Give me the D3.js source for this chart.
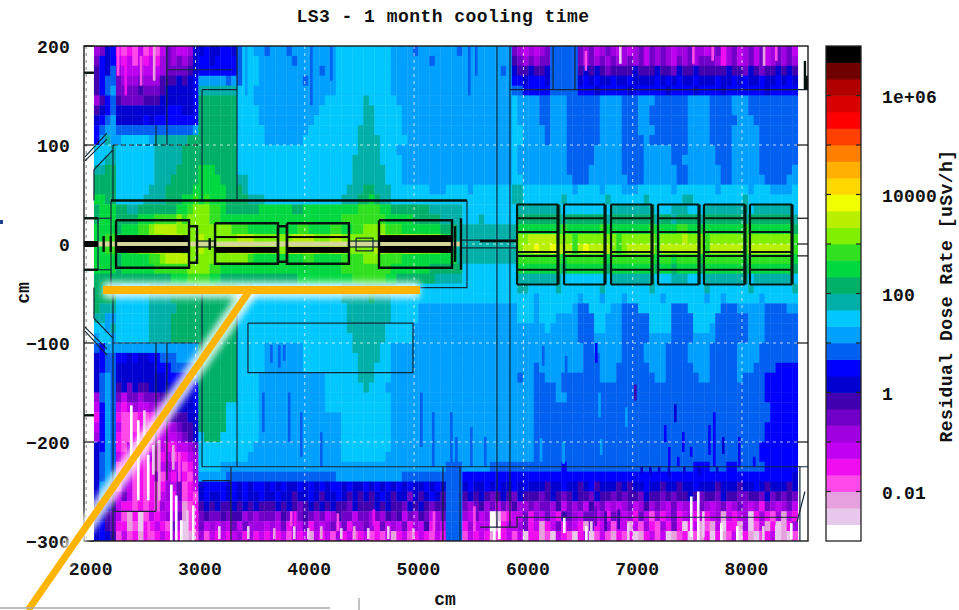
<!DOCTYPE html>
<html>
<head>
<meta charset="utf-8">
<style>
  html, body { margin: 0; padding: 0; background: #fff; overflow: hidden; }
  text { font-family: "Liberation Mono", "DejaVu Sans Mono", monospace; font-weight: 700; fill: #111; }
</style>
<script src="https://cdn.jsdelivr.net/npm/d3@7"></script>
</head>
<body>
<svg id="chart" width="959" height="610"></svg>
<script>
// colour band index per cell, base 30: 0 = lowest dose band, t = highest band
// one string per 10 cm row, top (y = 200) to bottom, 8 groups of 16 columns
const doseBandRows = [
  "679a434353435765 5699a99aa9bddccb cccbccccccccdddd ddddddccccbccccc ccbccccccccc7656 567bbbbb76756765 6567576765667665 6746756757567675",
  "7a9a545354546767 679aa9aaaabdddcc ccccbcccccccdddd ddddddcccccccbcc cccccccccccc8767 677bbbbb76767676 6767576765767677 7646756757567676",
  "8a9b655565556777 789aaaaaaabdddcc cccccccccbccdddd ddddddcccccccccc ccccccccccbc9889 889bbbbb89898788 8898889887988988 8889887987889898",
  "8abb766676668889 89acccccbcbdddcc ccccccbcccccdddd ddddddcccccccccc ccccccccccccaa9a aa9bbbbb9a9a99a9 9a9999a9a9a99a99 9a99a9a99a99a9a9",
  "8abc777787778999 99aeeeeeeedddccc ccccccccccccdddd ddddddcccccccccc ccccccccccccbbaa aaabbbbbaaa9aaaa a9aaaaaa9aaaa9aa aa9aaaaaaa9aaaaa",
  "68ab877778889999 99afffffffdddccc ccccccccccdddddd dedddddccccccccc ccccccccccccdccc cbbcccbbbbbbcccc bbbcccbbbbbbcccc bbbbcccbbbbbbbbb",
  "89ab999999999aaa 99afffffffddddcc cccccccccddddddd deedddddcccccccc ccccccccccccdccc cbbcccbbbbbbcccc bbbccbbbbbbbcccc bbbbcccbbbbbbbbb",
  "9abc99999a9aaaaa aaafffffffddddcc ccccccccdddddddd deedddddcccccccc ccccccccccccdccc cbbcccbbbbbbcccc bbbccbbbbbbbcccc bbbbbcccbbbbbbbb",
  "abccbbbbbbbbbbbb bbcfffffffdddddc cccccccddddddddd eeedddddcccccccc ccccccccccccddcc ccbcccbbbbbbcccc bbbcccbbbbbbcccc bbbbcccccbbbbbbb",
  "aceccdddddceeeee efffffffffdddddc ccccccdddddddddd eeeedddddccccccc ccccccccccccddcc ccbcccbbbbbbcccc bbbbcbbbbbbbcccc bbbbcccccbbbbbbb",
  "dddedddddddeeeee ffffffffffdddddd dddddddddddddddd eeeedddccccccccc ccccccccccccdccc ccccccbbbbbccccc bbbbcccccbbbcccc cbbbcccccbbbbbbb",
  "ddeedddddddeeeee ffffffffffdddddd ddddddddddddddde eeeeddddcccccccc ccccccccccccdccc ccccccbbbbbccccc bbbbcccccbbccccc cbbbcccccbbbbbbb",
  "eeffdddddddeeeef fffgggffffdddddd ddddddddddddddde eeeeedddcccccccc ccccccccccccdccc ccccccbbbbcccccc bbbbccccccbbcccc ccbbcccccbbbbbbc",
  "ffffdddddddeeeff fffggggfffeedddd ddddddddddddddde eeeeedddcccccccc ccccccccccccddcc cccccccbbbcccccc cbbbccccccbbcccc ccbbccccccbbbbcc",
  "ffffddddddeeefff ffggggggfffedddd ddddddddddddddee effeeedddddddccc ddddcdddddddeedd dddddddcddddcddd cccddddddcdddddd dcdddddcdddccccd",
  "ggffdddddeeeefff gghghgggffffeeed dddddddddddddeee ffgfeedddddddddd ddddddddddddeedd dddddedddddddedd ddddeddddddeeddd ddddddeddddddddd",
  "fgggffeefffffffg ghiiihhgffffffgg ggggffgggggggggg hhhhggfffffffeee eeeddddddddddeee eeeeedddddddddee eeeeeedddeeeddde eeeeeeedeeeeeeed",
  "fgggffffggghhhhi hiiiihhggggggggg ggggggggggggghhh hhhhhgggggfffffe eeedddeddddddfff fffffefffffffeff ffffffeffeffffef ffffffeffffffffe",
  "ggggfggghhijjjji iiiiiiiiihhhgggg ggggghhgggghhggh hiiiihhhgggggggf ffeeeeeeeeeeeggg ggggghgggggghggg ggggghgggghhgggg gggggghggggggggf",
  "gghhgggghhiiijjj iiijiiiiiijjjiii iiiijjjjiiijjiii iiiijiiijjjiiiih gfeeeeeeeeeeeiij jjjjiiihiiiiiiih iiiiiihiiiijiiih iiiiiihiiiiiiiih",
  "gghhgghhiiijjjjj iiijiiiijjjjjiii iiijjjjjjiijjiii iiijjiiijjjiiiih gfeeeeeeeeeeeijj kjjkjjjhjkjjjjih ijjjjjhjjjjjjjih jjjjjjhjjjjjjjjh",
  "ggggfggggghhijjj jiiiiiiiiiiihggg gggggghhggggghhh hiiihhhhgggggggg ggeeeeeeeeeeehhh hhhhhghhhhhhhghh hhhhhhghhghhhhgh hhhhhhghhhhhhhhg",
  "ggggfgggggghhhhh hiiiihhggggggggg ggggggggggggghhh hhhhhhgggggggfff fffddddddddddggg gggggfgggggggfgg ggggggfggfggggfg ggggggfggggggggf",
  "ffffffffffffffgg ghhhhggfffffffff fffffggggggggggh hhhhhggfffffffee eeeddddddddddeee eeeeedddddddddee eeeeeedddeeeddde eeeeeeedeeeeeeed",
  "fffeedddddeeefff fffgggffffeeeddd dddddddddddddeee efffeeeddddddddd dddddddddddddeed ddddedddddddeddd dddddeddddddddde dddddddeddddddde",
  "ffffddddddeeeeff ffffffffffdddddd dddddddddddddeee eefeeedddddddddd dddddddddddddddd cdddddddcdddcddd cddddddcdddddddc ddcddddddcdddddd",
  "feeeddddddeeeeef ffffffffffdddddd ddddddddddddddee eeeeeedddddccccc cccccccccccccddd cddddddcbbddddcc bbbddddddbbbdddd ddbbbcccccbbbbcc",
  "eeccddddddeeeeff ffffffffffdddddd ddddddddddddddee eeeeeedddddccccc cccccccccccccddd cdddccccbbbddccc bbbbbddddbbbbddd dbbbbbbcccbbbbbb",
  "ddceddddddeeeeff ffffffffffdddddd ddddddddddddddee eeeeedddddcccccc cccccccccccccccc ccdcccccbbbddccc bbbbbddddbbbbddd cbbbbbbcccbbbbbb",
  "cddcddddddeeeeff ffffffffffdddddd ddddddddddddddde eeeeedddddcccccc cccccccccccccccc ccccccccbbbccccc bbbbbccccbbbbccc cbbbbbbcccbbbbbb",
  "bacccccccccccccc cccfffffffdddddc ccccccddddddddde eeeeddcccccccccc cccccccccccccccc cccccccccbbccccc bbbbccccbbbbcccc bbbbbccccbbbbbbb",
  "9abbaa9a99aabbbc cccfffffffdddddc ccccccdddddddddd eeeeddcccccccccc cccccccccccccccc cccccccccbbbcccc bbbbccccbbbbcccc bbbbbccccbbbbbbb",
  "9abb9999999aaabb bbcfffffffdddddc ccccccdddddddddd eeedddcccccccccc cccccccccccccccc bccccccccbbbcccb bbbbbcccbbbbbccc bbbbbcccbbbbaaaa",
  "9bcb999999999aaa aabfffffffddddcc ccccccccccdddddd eeedddcccccccccc cccccccccccccbcc bbcccbbbbbbbcccb bbbbbbccbbbbbbcc bbbbbcbbbbaaaaaa",
  "9bcb897988999999 9aafffffffddddcc ccccccccccdddddd dedddccccccccccc cccccccccccccccc bbbbcbbbbbbbbbbb bbbbbbbbbbbbbbbb bbbbbbbbbbaaaaaa",
  "6bcb7577677788a9 99afffffffddddcc ccccccccccdddddd ddddddcccccccccc cccccccccccccccc bbbbccbbbbbbbbbb bbbbbbbbbbbbbbbb bbbbbbbbbbaaaaaa",
  "5acb545655667889 99afffffddddddcc ccccccccccdddddd ddddddcccccccccc cccccccccccccccc bbbbbbbbbbbbbbbb bbbbbbbbbbbbbbbb bbbbbbbbbbbaaaaa",
  "4acb433343456788 899fffffddddddcc cccccccccccccddd ddddddcccccccccc cccccccccccccccc bbbbbbbbbbbbbbbb bbbbbbbbbbbbbbbb bbbbbbbbbbbaaaaa",
  "5acb533343345567 889fffffddddddcc cccccccccccccddd ddddddcccccccccc cccccccccccccccc bbbbbbbbbbbbbbbb bbbbbbbbbbbbbbbb bbbbbbbbbbaaaaaa",
  "6acb433434345556 789dfffdddddddcc cccccccccccccddd ddddddcccccccccc cccccccccccccccc bbbbbbbbbbbbbbbb bbbbbbbbbbbbbbbb bbbbbbbbbbaaaaaa",
  "9acb435343435445 567ddddddddddccc cccccccccccccddd ddddddcccccccccc cccccccccccccccc bbbbbbbbbbbbbbbb bbbbbbbbbbbbbbbb bbbbbbbbbaaaaaaa",
  "9bcb545343534534 456dddddddddcccc cccccccccccccddd dddddccccccccccc cccccccccccccccc bbbbbbbbbbbbbbbb bbbbbbbbbbbbbbbb bbbbbbbbbaaaaaaa",
  "9bcb345343435655 346ddddccccccccc cccccccccccccccc cccccccccccccccc bbbcccccbbbbbbbb bbbbbabbbbbbbbbb bbbbbbbbbbbbbaaa bbbaabbbbbaaaaaa",
  "9bcc355343453546 436cccccbbbbbbbb bbbbbbbbbbbbcccc ccccccccbbbbbbbb bbbaaaaaaaaaaaaa aaaaaaaaaaaaaaaa aaaaaaaaaaaaaaaa aaaaaaaaaaaaaaa9",
  "9cc8365343434657 3459aaaa9a9a9aa9 a9a99a9a9a9aa9a9 9a9a9a9a9a99a9a9 bbb9a99a9a99a9a9 99899a9989a89998 9899a99899899a99 98999899a9899989",
  "9c96575343435647 3439a99a9a9a99a9 9a99899a9899a989 8989a98997989a98 bbb8989878987988 8789878988798878 7887988787889878 8798877887978787",
  "9a98544343436546 2348989889898988 8989878989898879 8889898879898788 bbb7678675768667 6776857675867565 6756867657566576 5675676564765675",
  "9987532413545657 2347877878867677 7687678767568775 7767687857687567 bbb6575601345574 6575487657756476 5647536457456454 5625456146436254",
  "9a87442314454375 1347565657576665 6574657465675746 6764756574658465 bbb4655502455674 5245746542745635 5253643647414523 2514426135241246",
  "9a98353424345464 1236354545646454 5453545254536453 4534352453454354 bbb3545423453514 4231543145135324 3412453512341324 1423514213451213",
];

// thin vertical streaks finer than the grid: x, top, bottom (cm), colour band
const doseStreaks = [
  [2280, 200, 170, 3], [2490, 190, 160, 3], [2610, 200, 165, 2], [2350, 185, 150, 4],
  [3453, 200, 150, 12], [4048, 200, 140, 11], [4231, 200, 165, 11], [5493, 200, 150, 11], [5557, 200, 170, 11],
  [6875, 200, 182, 1], [7543, 200, 182, 3], [7720, 200, 185, 3], [8190, 200, 180, 2], [8302, 200, 185, 3], [6560, 195, 175, 3],
  [3609, -150, -190, 11], [3682, -102, -120, 11], [3755, -102, -125, 11], [3800, -102, -118, 11],
  [3846, -150, -200, 11], [3956, -170, -215, 11], [4139, -190, -225, 11], [5054, -150, -205, 11],
  [5164, -170, -225, 11], [5329, -170, -222, 11], [5375, -195, -225, 11], [5512, -185, -225, 11], [5640, -195, -225, 11],
  [7012, -142, -158, 8], [7378, -162, -180, 9], [7286, -183, -200, 10], [7451, -190, -210, 10],
  [7690, -183, -213, 10], [7735, -170, -225, 10], [7817, -195, -212, 9], [7963, -195, -225, 10],
  [8100, -215, -225, 10], [7323, -205, -225, 10], [7524, -205, -215, 10], [7405, -215, -225, 10],
  [6655, -100, -120, 10], [6170, -103, -123, 11], [6380, -113, -130, 11], [6555, -125, -137, 11],
  [6685, -150, -175, 12], [6930, -165, -185, 12], [6150, -196, -220, 12], [6700, -197, -213, 12], [6355, -200, -222, 12],
  [7070, -225, -232, 9], [7150, -225, -234, 9], [7230, -225, -232, 9], [7320, -225, -236, 9], [7460, -225, -232, 9], [7600, -225, -234, 9], [7760, -225, -232, 9],
  [2401, -163, -218, 0], [2465, -178, -259, 0], [2520, -168, -203, 1], [2556, -213, -259, 0], [2602, -203, -233, 1],
  [2657, -198, -259, 2], [2785, -203, -228, 2], [2840, -210, -240, 3],
  [2767, -243, -300, 0], [2812, -254, -300, 0], [2858, -279, -300, 0], [2913, -269, -300, 1], [2968, -264, -300, 0], [2560, -280, -300, 3],
  [3206, -285, -298, 1], [3471, -285, -298, 1], [3709, -287, -298, 2], [3892, -285, -298, 1], [4020, -287, -298, 1],
  [4139, -285, -298, 2], [4322, -287, -298, 1], [4441, -285, -298, 2], [4569, -287, -298, 1], [4752, -285, -298, 1], [4980, -287, -298, 2],
  [3864, -270, -285, 3], [3900, -270, -285, 4], [4290, -272, -290, 3], [4620, -268, -285, 4], [5170, -270, -290, 3], [5540, -265, -290, 3],
  [5722, -276, -300, 0], [5768, -280, -298, 0], [6362, -276, -292, 0], [6564, -285, -300, 0], [6610, -280, -296, 1],
  [6948, -282, -300, 1], [7524, -255, -296, 0], [7588, -250, -300, 0], [7634, -270, -296, 1],
  [7799, -282, -300, 0], [7945, -285, -300, 0], [8183, -285, -300, 1], [8302, -284, -300, 1], [8439, -282, -298, 0],
  [6650, -265, -285, 7], [6740, -270, -290, 8], [6860, -268, -288, 8], [6300, -250, -270, 8], [7350, -260, -278, 7],
];

const bandColors = [
  "#ffffff", "#e8c8ec", "#e6a0de", "#ff48e8", "#f010f0", "#c000f0",
  "#a000e0", "#7000c8", "#4000b0", "#0000d0", "#0000ff", "#0060f0",
  "#00a0ff", "#00c8ff", "#00b0a8", "#00b068", "#00d840", "#30e020",
  "#80f000", "#b8f000", "#f0ff00", "#ffd800", "#ffb000", "#ff8000",
  "#ff4000", "#ff0000", "#d80000", "#b00000", "#700000", "#000000",
];

const xTicks = [2000, 3000, 4000, 5000, 6000, 7000, 8000];
const yTicks = [200, 100, 0, -100, -200, -300];
const doseTicks = [1e-2, 1e-1, 1, 10, 100, 1e3, 1e4, 1e5, 1e6];
const doseLabels = new Map([[1e-2, "0.01"], [1, "1"], [100, "100"], [1e4, "10000"], [1e6, "1e+06"]]);

// detector outlines, in cm
const thinOutlines = [
  [[2245, 100], [2245, 44]], [[3060, 156], [3060, 44]], [[3060, 156], [3380, 156]], [[3380, 200], [3380, 44]],
  [[2739, 176], [3340, 176]], [[2639, 120], [2639, 100]], [[2739, 200], [2739, 100]],
  [[5484, 44], [5484, -44], [2227, -44], [2227, 44]],
  [[2245, -44], [2245, -100]], [[2245, -100], [3060, -100]], [[3060, -44], [3060, -225]], [[3380, -62], [3380, -225]],
  [[3060, -225], [8604, -225]], [[3060, -239], [3325, -239]], [[3325, -225], [3325, -300]],
  [[2639, -100], [2639, -270]], [[2739, -100], [2739, -239]], [[2245, -270], [2639, -270]], [[2245, -100], [2245, -300]],
  [[3480, -80], [4990, -80], [4990, -130], [3480, -130], [3480, -80]],
  [[5264, -225], [5264, -300]], [[5420, -225], [5420, -300]],
  [[5758, 200], [5758, -286]], [[5877, 200], [5877, -286]],
  [[5603, -286], [5942, -286], [5942, -276], [8503, -276]],
  [[5877, 156], [8604, 156]], [[6271, 200], [6271, 156]], [[6472, 200], [6472, 156]],
  [[8503, -281], [8576, -250]], [[8530, -225], [8530, -300]],
  [[2071, 75], [2245, 95]], [[2071, 75], [2071, 44]], [[2071, -44], [2071, -75]], [[2071, -75], [2245, -95]],
  [[1989, 88], [2190, 112]], [[1989, 84], [2190, 106]], [[1989, -88], [2190, -112]], [[1989, -84], [2190, -106]],
  [[2108, 26], [2230, 26]], [[2108, -26], [2230, -26]], [[2108, 26], [2108, -26]],
  [[5429, 4], [5932, 4]], [[5429, -4], [5932, -4]], [[4469, 6], [4624, 6], [4624, -7], [4469, -7], [4469, 6]],
  [[3014, 3], [3179, 3]], [[3014, -3], [3179, -3]], [[4404, 3], [4679, 3]], [[4404, -3], [4679, -3]],
];
const dashedOutlines = [[[2245, 100], [3041, 100]]];
const thickOutlines = [
  [[2227, 44], [5484, 44]], [[5603, 3], [5932, 3]],
  [[2273, 24], [2941, 24], [2941, -24], [2273, -24], [2273, 24]],
  [[3179, 21], [3755, 21], [3755, -20], [3179, -20], [3179, 21]],
  [[3837, 21], [4404, 21], [4404, -20], [3837, -20], [3837, 21]],
  [[4679, 24], [5347, 24], [5347, -24], [4679, -24], [4679, 24]],
  [[2941, 18], [3014, 18], [3014, -19], [2941, -19]],
  [[3755, 18], [3837, 18], [3837, -18], [3755, -18], [3755, 18]],
  [[5429, 26], [5429, -26]], [[5375, 18], [5375, -18]], [[3130, 6], [3130, -6]],
  [[1980, 26], [2108, 26]], [[1980, -26], [2108, -26]],
  [[2160, 8], [2160, -8]], [[2225, 8], [2225, -8]], [[1980, 173], [2071, 173]], [[1980, -173], [2071, -173]],
  [[8576, 185], [8576, 156]], [[8596, 170], [8596, 156]],
];
const beamBars = [
  [1980, 2108, 3, -3],
  [2273, 2941, 9, 2], [2273, 2941, -2, -9],
  [3179, 3755, 8, 6], [3179, 3755, -3, -9],
  [3837, 4404, 8, 6], [3837, 4404, -3, -9],
  [4679, 5347, 9, 2], [4679, 5347, -2, -9],
];
const moduleSpans = [[5942, 6317], [6372, 6747], [6802, 7177], [7232, 7607], [7652, 8027], [8073, 8458]];
const moduleLines = [40, 26, 12, -8, -12, -26, -41];
const rightFrameTicks = [100, 26, 0, -12, -100, -200];

const width = 959;
const height = 610;
const plot = { left: 84, right: 808, top: 46, bottom: 541 };
const bar = { left: 826, right: 861, top: 46, bottom: 541 };

const columnStart = 2071;
const columnWidth = 50.3;
const rowHeight = 10;
const streakWidth = 24;

const x = d3.scaleLinear().domain([1980, 8604]).range([plot.left, plot.right]);
const y = d3.scaleLinear().domain([200, -300]).range([plot.top, plot.bottom]);
const doseScale = d3.scaleLog().domain([1e-3, 1e7]).range([bar.bottom, bar.top]);
const bandColor = d3.scaleQuantize().domain([-3, 7]).range(bandColors);
const bandToLogDose = (band) => -3 + (band + 0.5) / 3;

const cells = doseBandRows.flatMap((row, rowIndex) =>
  row.replace(/ /g, "").split("").map((code, columnIndex) => ({
    x0: columnStart + columnIndex * columnWidth,
    y0: 200 - rowIndex * rowHeight,
    logDose: bandToLogDose(parseInt(code, 30)),
  }))
);

const svg = d3.select("#chart");

const defs = svg.append("defs");
defs.append("filter").attr("id", "soft").append("feGaussianBlur").attr("stdDeviation", 0.6);
defs.append("filter").attr("id", "glow")
  .attr("x", "-20%").attr("y", "-200%").attr("width", "140%").attr("height", "500%")
  .append("feGaussianBlur").attr("stdDeviation", 3);
defs.append("clipPath").attr("id", "plot-clip").append("rect")
  .attr("x", plot.left).attr("y", plot.top)
  .attr("width", plot.right - plot.left).attr("height", plot.bottom - plot.top);

const heat = svg.append("g").attr("clip-path", "url(#plot-clip)").append("g").attr("filter", "url(#soft)");
heat.append("g").selectAll("rect")
  .data(cells)
  .join("rect")
  .attr("x", (d) => x(d.x0))
  .attr("y", (d) => y(d.y0))
  .attr("width", x(columnWidth) - x(0) + 0.4)
  .attr("height", y(0) - y(rowHeight) + 0.4)
  .attr("fill", (d) => bandColor(d.logDose));
heat.append("g").selectAll("rect")
  .data(doseStreaks)
  .join("rect")
  .attr("x", (d) => x(d[0]))
  .attr("y", (d) => y(d[1]))
  .attr("width", x(streakWidth) - x(0))
  .attr("height", (d) => y(d[2]) - y(d[1]))
  .attr("fill", (d) => bandColor(bandToLogDose(d[3])));

// grid
const grid = svg.append("g").attr("fill", "none").attr("stroke", "#fff")
  .attr("stroke-width", 1).attr("stroke-opacity", 0.75).attr("stroke-dasharray", "3 4");
grid.selectAll("line.v").data(xTicks).join("line").attr("class", "v")
  .attr("x1", (d) => x(d)).attr("x2", (d) => x(d)).attr("y1", plot.top).attr("y2", plot.bottom)
  .attr("stroke", (d) => (d === 2000 ? "#555" : "#fff"));
grid.selectAll("line.h").data(yTicks.slice(1, -1)).join("line").attr("class", "h")
  .attr("x1", x(2071)).attr("x2", x(8503)).attr("y1", (d) => y(d)).attr("y2", (d) => y(d));

// detector outline
const outline = d3.line().x((d) => x(d[0])).y((d) => y(d[1]));
const geo = svg.append("g").attr("fill", "none").attr("clip-path", "url(#plot-clip)");

geo.append("g").selectAll("rect")
  .data([[2108, 5429, 2.5, -2.5]])
  .join("rect")
  .attr("x", (d) => x(d[0])).attr("width", (d) => x(d[1]) - x(d[0]))
  .attr("y", (d) => y(d[2])).attr("height", (d) => y(d[3]) - y(d[2]))
  .attr("fill", "#d6d89a");

geo.append("g").selectAll("path").data(thinOutlines).join("path")
  .attr("d", outline).attr("stroke", "#12283a").attr("stroke-width", 1.2);
geo.append("g").selectAll("path").data(dashedOutlines).join("path")
  .attr("d", outline).attr("stroke", "#111").attr("stroke-width", 1.2).attr("stroke-dasharray", "5 3");
geo.append("g").selectAll("path").data(thickOutlines).join("path")
  .attr("d", outline).attr("stroke", "#03120c").attr("stroke-width", 2.4);

geo.append("g").selectAll("rect").data(beamBars).join("rect")
  .attr("x", (d) => x(d[0])).attr("width", (d) => x(d[1]) - x(d[0]))
  .attr("y", (d) => y(d[2])).attr("height", (d) => y(d[3]) - y(d[2]))
  .attr("fill", "#000");

const modules = geo.append("g").selectAll("g").data(moduleSpans).join("g")
  .attr("stroke", "#031a10");
modules.selectAll("line").data((span) => moduleLines.map((level) => ({ span, level }))).join("line")
  .attr("x1", (d) => x(d.span[0])).attr("x2", (d) => x(d.span[1]))
  .attr("y1", (d) => y(d.level)).attr("y2", (d) => y(d.level))
  .attr("stroke-width", 2);
modules.append("path")
  .attr("d", (span) => outline([[span[0], 40], [span[0], -41]]))
  .attr("stroke-width", 2.2);
modules.append("path")
  .attr("d", (span) => outline([[span[1], 40], [span[1], -41]]))
  .attr("stroke-width", 3.2);

// frame
svg.append("rect")
  .attr("x", plot.left).attr("y", plot.top)
  .attr("width", plot.right - plot.left).attr("height", plot.bottom - plot.top)
  .attr("fill", "none").attr("stroke", "#1a1a1a").attr("stroke-width", 1.4);
svg.append("g").selectAll("line").data(yTicks).join("line")
  .attr("x1", plot.left).attr("x2", x(2071)).attr("y1", (d) => y(d)).attr("y2", (d) => y(d))
  .attr("stroke", "#111").attr("stroke-width", 1.2);
svg.append("g").selectAll("line").data(rightFrameTicks).join("line")
  .attr("x1", x(8503)).attr("x2", plot.right).attr("y1", (d) => y(d)).attr("y2", (d) => y(d))
  .attr("stroke", "#111").attr("stroke-width", 1.2);

// axes
const xAxis = svg.append("g")
  .attr("transform", `translate(4,${plot.bottom})`)
  .call(d3.axisBottom(x).tickValues(xTicks).tickFormat(d3.format("d")).tickSize(0).tickPadding(21));
const yAxis = svg.append("g")
  .attr("transform", `translate(${plot.left},0)`)
  .call(d3.axisLeft(y).tickValues(yTicks).tickSize(0).tickPadding(14));
for (const axis of [xAxis, yAxis]) {
  axis.select(".domain").remove();
  axis.selectAll("text")
    .attr("font-family", null)
    .style("font-size", "18px")
    .style("letter-spacing", "0.2px");
}
yAxis.selectAll("text").attr("dy", "0.36em");

// colour bar
const bandEdges = bandColors.map((color, index) => ({
  color,
  low: Math.pow(10, -3 + index / 3),
  high: Math.pow(10, -3 + (index + 1) / 3),
}));
const colorBar = svg.append("g");
colorBar.append("g").attr("filter", "url(#soft)").selectAll("rect").data(bandEdges).join("rect")
  .attr("x", bar.left).attr("width", bar.right - bar.left)
  .attr("y", (d) => doseScale(d.high))
  .attr("height", (d) => doseScale(d.low) - doseScale(d.high) + 0.4)
  .attr("fill", (d) => d.color);
colorBar.append("rect")
  .attr("x", bar.left).attr("y", bar.top)
  .attr("width", bar.right - bar.left).attr("height", bar.bottom - bar.top)
  .attr("fill", "none").attr("stroke", "#222").attr("stroke-width", 1.3);
for (const side of [[bar.left, bar.left + 5], [bar.right - 5, bar.right]]) {
  colorBar.append("g").selectAll("line").data(doseTicks).join("line")
    .attr("x1", side[0]).attr("x2", side[1])
    .attr("y1", (d) => doseScale(d)).attr("y2", (d) => doseScale(d))
    .attr("stroke", "#222").attr("stroke-width", 1.2);
}
colorBar.append("g").selectAll("text").data(doseTicks.filter((d) => doseLabels.has(d))).join("text")
  .attr("x", 882)
  .attr("y", (d) => doseScale(d))
  .attr("dy", "0.42em")
  .attr("font-size", 18)
  .style("letter-spacing", "0.2px")
  .text((d) => doseLabels.get(d));

// titles
svg.append("text")
  .attr("x", 443).attr("y", 22)
  .attr("text-anchor", "middle").attr("font-size", 18)
  .style("letter-spacing", "0.47px")
  .text("LS3 - 1 month cooling time");
svg.append("text")
  .attr("x", 445).attr("y", 605)
  .attr("text-anchor", "middle").attr("font-size", 18)
  .text("cm");
svg.append("text")
  .attr("transform", "translate(29,293) rotate(-90)")
  .attr("text-anchor", "middle").attr("font-size", 18)
  .text("cm");
svg.append("text")
  .attr("transform", "translate(952,296) rotate(-90)")
  .attr("text-anchor", "middle").attr("font-size", 18)
  .style("letter-spacing", "0.47px")
  .text("Residual Dose Rate [uSv/h]");

// slide annotation in orange
const callout = svg.append("g").attr("fill", "none");
const calloutBar = [[2154, -46.5], [5054, -46.5]];
const calloutLeg = [[3499, -46.5], [1468, -370]];
callout.append("g").attr("filter", "url(#glow)").selectAll("path")
  .data([calloutBar, calloutLeg]).join("path")
  .attr("d", outline).attr("stroke", "#fff").attr("stroke-opacity", 0.8).attr("stroke-width", 17);
callout.selectAll("path.edge").data([calloutBar, calloutLeg]).join("path")
  .attr("class", "edge").attr("d", outline).attr("stroke", "#ffb400")
  .attr("stroke-width", (d) => (d === calloutBar ? 8 : 7));

// slide fragments around the plot
svg.append("rect").attr("x", 0).attr("y", 220).attr("width", 3).attr("height", 4).attr("fill", "#1f3f8f");
svg.append("line").attr("x1", 0).attr("x2", 330).attr("y1", 608).attr("y2", 608).attr("stroke", "#aaa").attr("stroke-width", 1.5);
svg.append("line").attr("x1", 359).attr("x2", 359).attr("y1", 598).attr("y2", height).attr("stroke", "#888").attr("stroke-width", 1);
</script>
</body>
</html>
